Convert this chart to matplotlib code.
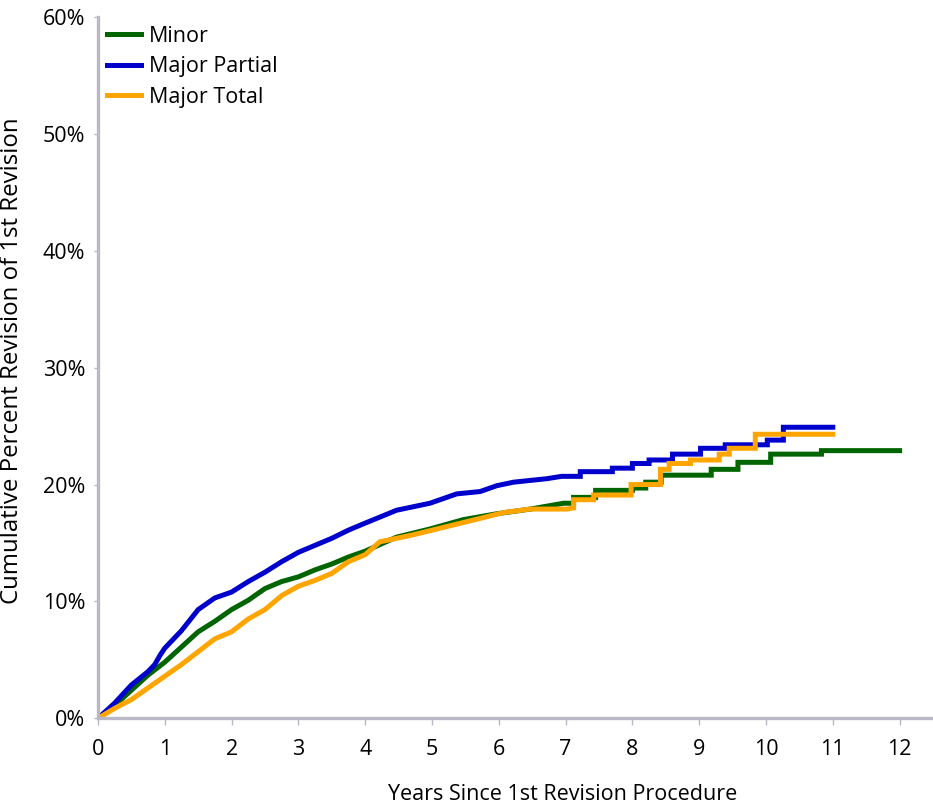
import matplotlib
matplotlib.use('Agg')
from matplotlib import pyplot as plt
from matplotlib.ticker import FuncFormatter

# cumulative percent revision
minor_years = [0, 0.25, 0.5, 0.75, 1.0, 1.25, 1.5, 1.75, 2.0, 2.25, 2.5, 2.75, 3.0, 3.25, 3.5,
               3.75, 4.0, 4.47, 4.97, 5.47, 5.97, 6.47, 6.97, 7.12, 7.12, 7.45, 7.45, 8.0, 8.0, 8.2,
               8.2, 8.43, 8.43, 9.18, 9.18, 9.58, 9.58, 10.07, 10.07, 10.83, 10.83, 12.0]
minor_pct = [0, 1.1, 2.4, 3.7, 4.8, 6.1, 7.4, 8.3, 9.3, 10.1, 11.1, 11.7, 12.1, 12.7, 13.2,
             13.8, 14.3, 15.5, 16.2, 17.0, 17.5, 17.9, 18.4, 18.4, 18.9, 18.9, 19.5, 19.5, 19.7, 19.7,
             20.2, 20.2, 20.8, 20.8, 21.3, 21.3, 21.9, 21.9, 22.6, 22.6, 22.9, 22.9]

partial_years = [0, 0.25, 0.5, 0.75, 0.85, 0.93, 1.0, 1.25, 1.5, 1.75, 2.0, 2.25, 2.5, 2.75, 3.0,
                 3.25, 3.5, 3.75, 4.0, 4.47, 4.97, 5.37, 5.72, 5.97, 6.22, 6.72, 6.94, 7.22, 7.22, 7.7,
                 7.7, 8.0, 8.0, 8.25, 8.25, 8.6, 8.6, 9.02, 9.02, 9.39, 9.39, 10.02, 10.02, 10.26, 10.26,
                 11.0]
partial_pct = [0, 1.3, 2.85, 4.0, 4.6, 5.4, 6.0, 7.5, 9.3, 10.3, 10.8, 11.7, 12.5, 13.4, 14.2,
               14.8, 15.4, 16.1, 16.7, 17.8, 18.4, 19.2, 19.4, 19.9, 20.2, 20.5, 20.7, 20.7, 21.1, 21.1,
               21.4, 21.4, 21.8, 21.8, 22.1, 22.1, 22.6, 22.6, 23.1, 23.1, 23.4, 23.4, 23.8, 23.8, 24.9,
               24.9]

total_years = [0, 0.25, 0.5, 0.75, 1.0, 1.25, 1.5, 1.75, 2.0, 2.25, 2.5, 2.75, 3.0, 3.25, 3.5,
               3.75, 4.0, 4.22, 4.72, 5.22, 5.72, 6.07, 6.47, 7.02, 7.12, 7.12, 7.42, 7.42, 7.98, 7.98,
               8.42, 8.42, 8.55, 8.55, 8.87, 8.87, 9.3, 9.3, 9.45, 9.45, 9.84, 9.84, 11.0]
total_pct = [0, 0.85, 1.6, 2.6, 3.6, 4.6, 5.7, 6.8, 7.4, 8.5, 9.3, 10.5, 11.3, 11.8, 12.4,
             13.4, 14.0, 15.1, 15.7, 16.4, 17.1, 17.6, 17.9, 17.9, 18.0, 18.7, 18.7, 19.1, 19.1, 20.0,
             20.0, 21.3, 21.3, 21.8, 21.8, 22.1, 22.1, 22.6, 22.6, 23.1, 23.1, 24.3, 24.3]

x_ticks = list(range(0, 13))
y_ticks = [0, 10, 20, 30, 40, 50, 60]

plt.rcParams['font.family'] = ['Open Sans', 'DejaVu Sans']
fs = 15.5
axis_grey = '#b8b8c6'

fig = plt.figure(figsize=(9.33, 8.08), dpi=100)
ax = fig.add_axes([0.105, 0.111, 0.895, 0.868])

ax.plot(minor_years, minor_pct, color='#006400', lw=3.6, label='Minor', solid_joinstyle='miter')
ax.plot(partial_years, partial_pct, color='#0000cc', lw=3.6, label='Major Partial', solid_joinstyle='miter')
ax.plot(total_years, total_pct, color='#ffa500', lw=3.6, label='Major Total', solid_joinstyle='miter')

ax.set_xlim(0, 12.5)
ax.set_ylim(0, 60)
ax.set_xticks(x_ticks)
ax.set_yticks(y_ticks)
ax.yaxis.set_major_formatter(FuncFormatter(lambda v, p: '%d%%' % v))

for s in ['top', 'right']:
    ax.spines[s].set_visible(False)
for s in ['left', 'bottom']:
    ax.spines[s].set_color(axis_grey)
    ax.spines[s].set_linewidth(2.4)

ax.tick_params(axis='x', length=5, width=1, color=axis_grey, labelsize=fs, pad=10)
ax.tick_params(axis='y', length=3, width=1, color=axis_grey, labelsize=fs, pad=6)

ax.set_xlabel('Years Since 1st Revision Procedure', fontsize=fs)
ax.xaxis.set_label_coords(0.557, -0.094)
ax.set_ylabel('Cumulative Percent Revision of 1st Revision', fontsize=17.3)
ax.yaxis.set_label_coords(-0.088, 0.51)

leg = ax.legend(loc='upper left', bbox_to_anchor=(0.0, 1.0), frameon=False, fontsize=fs,
                handlelength=1.6, handletextpad=0.35, labelspacing=0.45, borderaxespad=0.0,
                borderpad=0.4)

fig.savefig('out.png', dpi=100)
